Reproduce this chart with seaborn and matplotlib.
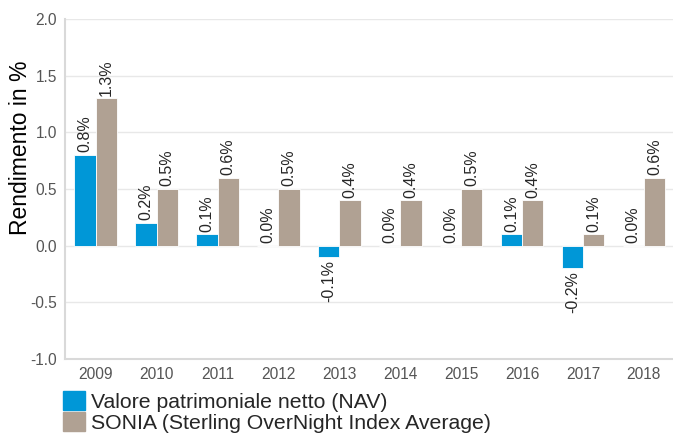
import pandas as pd
import matplotlib
matplotlib.use("Agg")
import matplotlib.pyplot as plt
import seaborn as sns

# --- dati ---
anni = ["2009", "2010", "2011", "2012", "2013", "2014", "2015", "2016", "2017", "2018"]
nav = [0.8, 0.2, 0.1, 0.0, -0.1, 0.0, 0.0, 0.1, -0.2, 0.0]
sonia = [1.3, 0.5, 0.6, 0.5, 0.4, 0.4, 0.5, 0.4, 0.1, 0.6]
serie = ["Valore patrimoniale netto (NAV)", "SONIA (Sterling OverNight Index Average)"]
colori = ["#0097d7", "#b0a193"]

df = pd.DataFrame({
    "anno": anni * 2,
    "valore": nav + sonia,
    "serie": [serie[0]] * len(anni) + [serie[1]] * len(anni),
})

sns.set_style("white")
plt.rcParams["font.family"] = ["Liberation Sans", "DejaVu Sans"]

fig = plt.figure(figsize=(6.73, 4.36), dpi=100)
ax = fig.add_axes([0.097, 0.177, 0.905, 0.779])

sns.barplot(data=df, x="anno", y="valore", hue="serie", palette=colori,
            width=0.7, gap=0.0, ax=ax, legend=False, saturation=1,
            edgecolor="white", linewidth=0.6)

# etichette valori
for cont in ax.containers:
    for rect in cont:
        v = rect.get_height()
        x = rect.get_x() + rect.get_width() / 2
        if v < 0:
            ax.annotate(f"{v:.1f}%", (x, v), xytext=(0, -2), textcoords="offset points",
                        rotation=90, ha="center", va="top", fontsize=11.5)
        else:
            ax.annotate(f"{v:.1f}%", (x, v), xytext=(0, 2), textcoords="offset points",
                        rotation=90, ha="center", va="bottom", fontsize=11.5)

ax.set_ylim(-1.0, 2.0)
ax.set_xlim(-0.5, 9.5)
ax.set_yticks([-1.0, -0.5, 0.0, 0.5, 1.0, 1.5, 2.0])
ax.set_yticklabels([f"{t:.1f}" for t in [-1.0, -0.5, 0.0, 0.5, 1.0, 1.5, 2.0]])
ax.yaxis.grid(True, color="#e8e8e8", linewidth=1)
ax.set_axisbelow(True)
ax.tick_params(axis="both", labelsize=11.2, colors="#555555", length=0, pad=6)
ax.set_xlabel("")
ax.set_ylabel("Rendimento in %", fontsize=16.5, color="black")
ax.yaxis.set_label_coords(-0.054, 0.62)

for s in ["top", "right"]:
    ax.spines[s].set_visible(False)
for s in ["left", "bottom"]:
    ax.spines[s].set_color("#d9d9d9")
    ax.spines[s].set_linewidth(1.5)

handles = [plt.Rectangle((0, 0), 1, 1, color=c) for c in colori]
fig.legend(handles, serie, loc="upper left", bbox_to_anchor=(0.093, 0.103),
           frameon=False, fontsize=15.3, handlelength=1.05, handleheight=1.0,
           handletextpad=0.3, labelspacing=0.0, borderpad=0, borderaxespad=0)

fig.savefig("out.png", dpi=100)
